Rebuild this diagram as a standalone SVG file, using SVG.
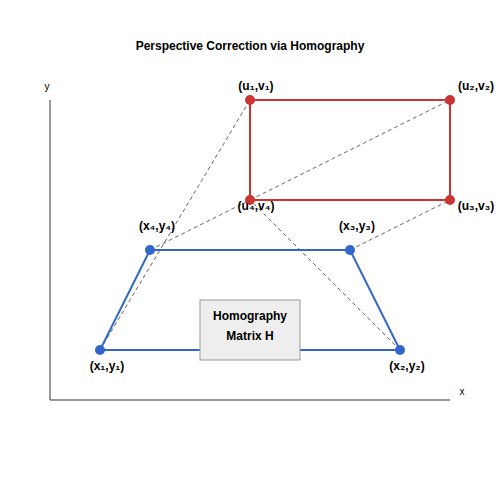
<svg xmlns="http://www.w3.org/2000/svg" width="500" height="500" viewBox="0 0 500 500">
<style>
text{font-family:"Liberation Sans","DejaVu Sans",Arial,sans-serif;}
.t{font-size:12px;font-weight:bold;text-anchor:middle;fill:#000;}
.ax{stroke:#333;stroke-width:1;fill:none;}
.axl{font-size:10px;fill:#000;}
.dash{stroke:#666;stroke-width:1;stroke-dasharray:4,3;fill:none;}
.src{stroke:#3366cc;stroke-width:2;fill:none;}
.dst{stroke:#cc3333;stroke-width:2;fill:none;}
.sp{fill:#3366cc;}
.dp{fill:#cc3333;}
.lbl{font-size:12px;font-weight:bold;text-anchor:middle;fill:#000;}
</style>
<rect width="500" height="500" fill="#fff"/>
<text class="t" x="250" y="50">Perspective Correction via Homography</text>
<g id="axes">
<line class="ax" x1="50" y1="100" x2="50" y2="400"/>
<line class="ax" x1="50" y1="400" x2="450" y2="400"/>
<text class="axl" x="47" y="90" text-anchor="middle">y</text>
<text class="axl" x="462" y="395" text-anchor="middle">x</text>
</g>
<g id="connectors">
<line class="dash" x1="100" y1="350" x2="250" y2="100"/>
<line class="dash" x1="150" y1="250" x2="450" y2="100"/>
<line class="dash" x1="350" y1="250" x2="450" y2="200"/>
<line class="dash" x1="400" y1="350" x2="250" y2="200"/>
</g>
<g id="source-quad">
<polygon class="src" points="100,350 400,350 350,250 150,250"/>
</g>
<g id="dest-rect">
<rect class="dst" x="250" y="100" width="200" height="100"/>
</g>
<g id="homography">
<rect x="200" y="300" width="100" height="60" fill="#eeeeee" stroke="#999" stroke-width="1"/>
<text class="t" x="250" y="320">Homography</text>
<text class="t" x="250" y="340">Matrix H</text>
</g>
<g id="x1"><circle class="sp" cx="100" cy="350" r="5"/><text class="lbl" x="107" y="370">(x₁,y₁)</text></g>
<g id="x2"><circle class="sp" cx="400" cy="350" r="5"/><text class="lbl" x="407" y="370">(x₂,y₂)</text></g>
<g id="x3"><circle class="sp" cx="350" cy="250" r="5"/><text class="lbl" x="357" y="230">(x₃,y₃)</text></g>
<g id="x4"><circle class="sp" cx="150" cy="250" r="5"/><text class="lbl" x="157" y="230">(x₄,y₄)</text></g>
<g id="u1"><circle class="dp" cx="250" cy="100" r="5"/><text class="lbl" x="256" y="90">(u₁,v₁)</text></g>
<g id="u2"><circle class="dp" cx="450" cy="100" r="5"/><text class="lbl" x="476" y="90">(u₂,v₂)</text></g>
<g id="u3"><circle class="dp" cx="450" cy="200" r="5"/><text class="lbl" x="476" y="210">(u₃,v₃)</text></g>
<g id="u4"><circle class="dp" cx="250" cy="200" r="5"/><text class="lbl" x="256" y="210">(u₄,v₄)</text></g>
</svg>
